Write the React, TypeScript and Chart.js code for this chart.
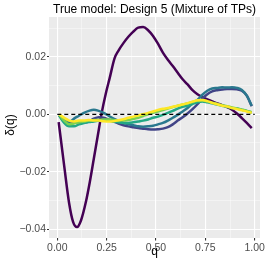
import React, { useEffect, useRef } from "react";
import { Chart, registerables } from "chart.js";

Chart.register(...registerables);

const TITLE = "True model: Design 5 (Mixture of TPs)";
const X_LABEL = "q";
const Y_LABEL = "δ(q)";

const Q = [0.01, 0.035, 0.06, 0.085, 0.11, 0.135, 0.16, 0.185, 0.21, 0.235, 0.26, 0.285, 0.31, 0.335, 0.36, 0.385, 0.41, 0.435, 0.46, 0.485, 0.51, 0.535, 0.56, 0.585, 0.61, 0.635, 0.66, 0.685, 0.71, 0.735, 0.76, 0.785, 0.81, 0.835, 0.86, 0.885, 0.91, 0.935, 0.96, 0.985];

const Q1 = [0.007, 0.035, 0.06, 0.08, 0.1, 0.12, 0.145, 0.165, 0.185, 0.205, 0.225, 0.245, 0.265, 0.29, 0.31, 0.335, 0.36, 0.385, 0.41, 0.435, 0.46, 0.485, 0.51, 0.535, 0.56, 0.585, 0.61, 0.635, 0.66, 0.685, 0.71, 0.735, 0.76, 0.785, 0.81, 0.835, 0.86, 0.885, 0.91, 0.935, 0.96, 0.985];
const S1 = [-0.0027, -0.018, -0.031, -0.0375, -0.0393, -0.037, -0.0305, -0.0235, -0.0155, -0.0075, 0.0005, 0.007, 0.0125, 0.0195, 0.0222, 0.0248, 0.027, 0.0288, 0.0302, 0.0304, 0.0293, 0.0273, 0.0246, 0.0215, 0.019, 0.0168, 0.0145, 0.0122, 0.0104, 0.0084, 0.007, 0.006, 0.0052, 0.0045, 0.0038, 0.0032, 0.0025, 0.0016, 0.0003, -0.0013, -0.003, -0.0048];
const S2 = [-0.0005, -0.002, -0.003, -0.0028, -0.0028, -0.0028, -0.0025, -0.0015, -0.001, -0.0012, -0.0018, -0.0025, -0.0032, -0.0038, -0.0042, -0.0045, -0.0048, -0.005, -0.0052, -0.0053, -0.0052, -0.005, -0.0045, -0.0035, -0.0022, -0.001, 0.0003, 0.0018, 0.0035, 0.0055, 0.007, 0.008, 0.0084, 0.0086, 0.0088, 0.0088, 0.0087, 0.0082, 0.0065, 0.0028];
const S3 = [-0.0003, -0.0025, -0.0028, -0.0015, -0.0005, 0.0005, 0.0012, 0.0016, 0.0012, 0.0005, -0.0005, -0.0015, -0.0022, -0.003, -0.0035, -0.0038, -0.0042, -0.0043, -0.0042, -0.004, -0.0035, -0.003, -0.0022, -0.0012, -0.0002, 0.001, 0.0022, 0.0038, 0.005, 0.0068, 0.0082, 0.009, 0.0092, 0.0094, 0.0093, 0.0094, 0.0092, 0.0085, 0.0065, 0.003];
const S4 = [-0.0005, -0.003, -0.0042, -0.0042, -0.0035, -0.003, -0.0027, -0.0025, -0.0022, -0.002, -0.0022, -0.0025, -0.0028, -0.003, -0.003, -0.0028, -0.0025, -0.0022, -0.0018, -0.0012, -0.0008, -0.0002, 0.0005, 0.0012, 0.002, 0.0026, 0.003, 0.0036, 0.0042, 0.0045, 0.0042, 0.0038, 0.0034, 0.003, 0.0026, 0.0022, 0.002, 0.0016, 0.0012, 0.0006];
const S5 = [-0.0002, -0.0022, -0.0035, -0.0032, -0.0028, -0.0025, -0.0022, -0.002, -0.002, -0.0018, -0.0018, -0.002, -0.0022, -0.0022, -0.002, -0.0016, -0.0012, -0.0006, 0, 0.0005, 0.001, 0.0015, 0.002, 0.0025, 0.003, 0.0034, 0.0038, 0.0043, 0.0047, 0.0048, 0.0045, 0.004, 0.0036, 0.0032, 0.0028, 0.0024, 0.002, 0.0016, 0.0012, 0.0007];
const S6 = [0, -0.0012, -0.0022, -0.0025, -0.0022, -0.0022, -0.002, -0.0022, -0.0022, -0.0024, -0.0025, -0.0024, -0.0021, -0.0017, -0.0012, -0.0008, -0.0004, 0, 0.0005, 0.001, 0.0015, 0.0019, 0.0022, 0.0026, 0.003, 0.0034, 0.0039, 0.0044, 0.0049, 0.005, 0.0046, 0.004, 0.0035, 0.003, 0.0027, 0.0022, 0.0018, 0.0014, 0.001, 0.0005];

const SERIES_X = [Q1, Q, Q, Q, Q, Q];
const SERIES = [S1, S2, S3, S4, S5, S6];
const COLORS = ["#440154", "#414487", "#2A788E", "#22A884", "#7AD151", "#FDE725"];

const REF_X = [0, 1];
const REF_Y = [0, 0];

const X_MAJOR = [0, 0.25, 0.5, 0.75, 1];
const X_MINOR = [0.125, 0.375, 0.625, 0.875];
const Y_MAJOR = [-0.04, -0.02, 0, 0.02];
const Y_MINOR = [-0.03, -0.01, 0.01, 0.03];

const isIn = (v: number, arr: number[]) => arr.some((a) => Math.abs(a - v) < 1e-9);

const fmtY = (v: number) => {
  const s = Math.abs(v).toFixed(2);
  return v < -1e-9 ? "\u2212" + s : s;
};

const FONT = "'Liberation Sans', Arial, sans-serif";

const decor = {
  id: "decor",
  beforeDraw(chart: any) {
    const { ctx, chartArea } = chart;
    ctx.save();
    ctx.fillStyle = "#FFFFFF";
    ctx.fillRect(0, 0, chart.width, chart.height);
    ctx.fillStyle = "#EBEBEB";
    ctx.fillRect(chartArea.left, chartArea.top, chartArea.right - chartArea.left, chartArea.bottom - chartArea.top);
    ctx.restore();
  },
  afterDraw(chart: any) {
    const { ctx, chartArea } = chart;
    ctx.save();
    ctx.fillStyle = "#000000";
    ctx.textAlign = "center";
    ctx.textBaseline = "alphabetic";
    ctx.font = `12px ${FONT}`;
    ctx.fillText(TITLE, (chartArea.left + chartArea.right) / 2, 12.5);
    ctx.fillText(X_LABEL, (chartArea.left + chartArea.right) / 2, 255);
    ctx.translate(14, 125);
    ctx.rotate(-Math.PI / 2);
    ctx.fillText(Y_LABEL, 0, 0);
    ctx.restore();
  },
};

export default function App() {
  const ref = useRef<HTMLCanvasElement | null>(null);
  useEffect(() => {
    if (!ref.current) return;
    const datasets: any[] = SERIES.map((s, i) => ({
      data: SERIES_X[i].map((q, j) => ({ x: q, y: s[j] })),
      borderColor: COLORS[i],
      borderWidth: 2.5,
      pointRadius: 0,
      cubicInterpolationMode: "monotone",
      fill: false,
      order: SERIES.length - i,
    }));
    datasets.push({
      data: REF_X.map((x, j) => ({ x, y: REF_Y[j] })),
      borderColor: "#000000",
      borderWidth: 1.3,
      borderDash: [4, 3],
      pointRadius: 0,
      fill: false,
      order: -1,
    });
    const chart = new Chart(ref.current, {
      type: "line",
      data: { datasets },
      plugins: [decor],
      options: {
        animation: false,
        responsive: false,
        devicePixelRatio: 1,
        layout: { padding: { top: 17, right: 4, left: 0, bottom: 0 } },
        plugins: { legend: { display: false }, title: { display: false }, tooltip: { enabled: false } },
        scales: {
          x: {
            type: "linear",
            min: -0.042,
            max: 1.027,
            afterBuildTicks: (scale: any) => {
              scale.ticks = [...X_MAJOR, ...X_MINOR].sort((a, b) => a - b).map((v) => ({ value: v }));
            },
            afterFit: (scale: any) => {
              scale.height = 28;
            },
            grid: {
              color: (c: any) => (c.tick && isIn(c.tick.value, X_MAJOR) ? "#FFFFFF" : "rgba(255,255,255,0.75)"),
              lineWidth: (c: any) => (c.tick && isIn(c.tick.value, X_MAJOR) ? 1.1 : 0.55),
              tickColor: (c: any) => (c.tick && isIn(c.tick.value, X_MAJOR) ? "#333333" : "rgba(0,0,0,0)"),
              tickLength: 2.5,
            },
            border: { display: false },
            ticks: {
              autoSkip: false,
              maxRotation: 0,
              padding: 1,
              color: "#4D4D4D",
              font: { family: FONT, size: 10.5 },
              callback: (v: any) => (isIn(Number(v), X_MAJOR) ? Number(v).toFixed(2) : ""),
            },
          },
          y: {
            type: "linear",
            min: -0.0431,
            max: 0.0339,
            afterBuildTicks: (scale: any) => {
              scale.ticks = [...Y_MAJOR, ...Y_MINOR].sort((a, b) => a - b).map((v) => ({ value: v }));
            },
            afterFit: (scale: any) => {
              scale.width = 49;
            },
            grid: {
              color: (c: any) => (c.tick && isIn(c.tick.value, Y_MAJOR) ? "#FFFFFF" : "rgba(255,255,255,0.75)"),
              lineWidth: (c: any) => (c.tick && isIn(c.tick.value, Y_MAJOR) ? 1.1 : 0.55),
              tickColor: (c: any) => (c.tick && isIn(c.tick.value, Y_MAJOR) ? "#333333" : "rgba(0,0,0,0)"),
              tickLength: 2,
            },
            border: { display: false },
            ticks: {
              autoSkip: false,
              padding: 1,
              color: "#4D4D4D",
              font: { family: FONT, size: 10.5 },
              callback: (v: any) => (isIn(Number(v), Y_MAJOR) ? fmtY(Number(v)) : ""),
            },
          },
        },
      } as any,
    });
    return () => chart.destroy();
  }, []);
  return (
    <div style={{ position: "fixed", left: 0, top: 0, width: 266, height: 266, background: "#fff" }}>
      <canvas ref={ref} width={266} height={266} style={{ width: 266, height: 266, display: "block" }} />
    </div>
  );
}
